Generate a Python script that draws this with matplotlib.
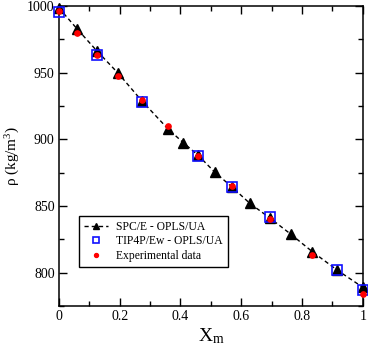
import matplotlib
matplotlib.use("Agg")
import matplotlib.pyplot as plt
from matplotlib.legend_handler import HandlerLine2D
from matplotlib.ticker import MultipleLocator

plt.rcParams['font.family'] = ['Liberation Serif', 'DejaVu Serif']
plt.rcParams['mathtext.fontset'] = 'custom'
plt.rcParams['mathtext.rm'] = 'Liberation Serif'
plt.rcParams['mathtext.it'] = 'Liberation Serif:italic'

# SPC/E - OPLS/UA
xm_spce = [0.0, 0.06, 0.124, 0.195, 0.274, 0.36, 0.409, 0.458, 0.513, 0.568,
           0.628, 0.694, 0.762, 0.834, 0.915, 1.0]
rho_spce = [998.5, 982.7, 966.5, 949.5, 928.5, 907.5, 897.5, 888.0, 875.3, 864.5,
            852.0, 841.0, 829.0, 815.7, 802.0, 789.0]

# TIP4P/Ew - OPLS/UA
xm_tip = [0.0, 0.124, 0.274, 0.458, 0.568, 0.694, 0.915, 1.0]
rho_tip = [995.7, 963.2, 928.0, 887.5, 864.5, 841.5, 802.0, 787.0]

# experimental
xm_exp = [0.0, 0.06, 0.124, 0.195, 0.274, 0.36, 0.458, 0.568, 0.694, 0.834, 1.0]
rho_exp = [996.0, 980.0, 963.5, 947.5, 929.5, 910.0, 887.5, 865.0, 840.0, 813.0, 783.7]

fig = plt.figure(figsize=(3.68, 3.45), dpi=100)
ax = fig.add_axes([0.160, 0.113, 0.826, 0.870])

l1, = ax.plot(xm_spce, rho_spce, color='black', ls=(0, (3, 2.2)), lw=1.0,
              marker='^', ms=6.5, mfc='black', mec='black', clip_on=False, zorder=3,
              label='SPC/E - OPLS/UA')
l2, = ax.plot(xm_tip, rho_tip, ls='none', marker='s', ms=6.5, mfc='none', mec='#1010ff',
              mew=1.2, clip_on=False, zorder=4, label='TIP4P/Ew - OPLS/UA')
l3, = ax.plot(xm_exp, rho_exp, ls='none', marker='o', ms=3.8, mfc='red', mec='red',
              clip_on=False, zorder=5, label='Experimental data')

ax.set_xlim(0, 1)
ax.set_ylim(775, 1000)
ax.xaxis.set_major_locator(MultipleLocator(0.2))
ax.xaxis.set_minor_locator(MultipleLocator(0.1))
ax.yaxis.set_major_locator(MultipleLocator(50))
ax.yaxis.set_minor_locator(MultipleLocator(25))
ax.set_xticks([0, 0.2, 0.4, 0.6, 0.8, 1.0])
ax.set_xticklabels(['0', '0.2', '0.4', '0.6', '0.8', '1'])
ax.tick_params(which='both', direction='in', top=True, right=True, labelsize=10, width=1)
ax.tick_params(which='major', length=6, pad=3)
ax.tick_params(which='minor', length=3.5)
for s in ax.spines.values():
    s.set_linewidth(1.1)

ax.set_xlabel(r'X$_\mathrm{m}$', fontsize=14, labelpad=2)
ax.set_ylabel(r'$\mathrm{\rho}$ (kg/m$^3$)', fontsize=11)
ax.yaxis.set_label_coords(-0.122, 0.5)

leg = ax.legend(handles=[l1, l2, l3], loc='lower left', bbox_to_anchor=(0.066, 0.13),
                borderaxespad=0, fontsize=8.4, fancybox=False, framealpha=1,
                edgecolor='black', handlelength=2.0, handletextpad=0.7,
                labelspacing=0.2, borderpad=0.45, markerscale=0.75,
                handler_map={l2: HandlerLine2D(numpoints=1), l3: HandlerLine2D(numpoints=1)})
leg.get_frame().set_linewidth(1.0)

fig.savefig('out.png', dpi=100)
